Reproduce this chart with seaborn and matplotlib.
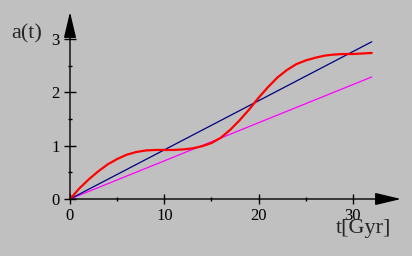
import matplotlib
matplotlib.use("Agg")
import matplotlib.pyplot as plt
import seaborn as sns
import pandas as pd

# Data
t = [0, 1, 2, 3, 4, 5, 6, 7, 8, 9, 10, 11, 12, 13, 14, 15, 16,
     17, 18, 19, 20, 21, 22, 23, 24, 25, 26, 27, 28, 29, 30, 31, 32]
a_red = [0, 0.20, 0.37, 0.52, 0.65, 0.75, 0.83, 0.88, 0.91, 0.92, 0.92,
         0.92, 0.93, 0.95, 0.99, 1.05, 1.15, 1.30, 1.48, 1.68, 1.90, 2.10,
         2.28, 2.42, 2.53, 2.60, 2.65, 2.69, 2.71, 2.72, 2.72, 2.73, 2.74]
t_lin = [0, 32]
a_blue = [0, 2.95]
a_magenta = [0, 2.29]

x_ticks = [0, 10, 20, 30]
y_ticks = [0, 1, 2, 3]

W, H = 412, 256
bg = "#c0c0c0"

sns.set_style("white")
plt.rcParams["font.family"] = ["Liberation Serif", "DejaVu Serif"]

fig = plt.figure(figsize=(W / 100, H / 100), dpi=100, facecolor=bg)
ax = fig.add_axes([70 / W, 57 / H, 331 / W, 187 / H])
ax.set_facecolor(bg)

red_df = pd.DataFrame({"t": t, "a": a_red})
lin_df = pd.DataFrame({"t": t_lin, "blue": a_blue, "magenta": a_magenta})

sns.lineplot(data=lin_df, x="t", y="magenta", color="#ff00ff", lw=0.9, ax=ax)
sns.lineplot(data=lin_df, x="t", y="blue", color="#000080", lw=0.9, ax=ax)
sns.lineplot(data=red_df, x="t", y="a", color="#ff0000", lw=1.6, ax=ax)

ax.set_xlim(0, 331 / 9.43)
ax.set_ylim(0, 187 / 53.3)
ax.set_xlabel("")
ax.set_ylabel("")

for s in ax.spines.values():
    s.set_visible(False)

# axes with arrow heads
arrow = dict(arrowstyle="-|>,head_length=1.6,head_width=0.38", color="black",
             lw=1, shrinkA=0, shrinkB=0, mutation_scale=10)
ax.annotate("", xy=(1, 0), xytext=(0, 0), xycoords="axes fraction",
            arrowprops=arrow, annotation_clip=False)
ax.annotate("", xy=(0, 1), xytext=(0, 0), xycoords="axes fraction",
            arrowprops=arrow, annotation_clip=False)

ax.set_xticks(x_ticks)
ax.set_yticks(y_ticks)
ax.set_xticks([5, 15, 25], minor=True)
ax.set_yticks([0.5, 1.5, 2.5], minor=True)
ax.tick_params(which="both", bottom=True, left=True, colors="black", width=1)
ax.tick_params(which="major", direction="inout", length=7.5,
               labelsize=12, pad=3)
ax.tick_params(which="minor", direction="inout", length=3.5)
ax.tick_params(axis="y", which="major", length=8.5)

fig.text(27 / W, 1 - 34 / H, "a(t)", fontsize=16, ha="center", va="center")
fig.text(364 / W, 1 - 229 / H, "t[Gyr]", fontsize=16, ha="center", va="center")

fig.savefig("out.png", dpi=100, facecolor=bg)
